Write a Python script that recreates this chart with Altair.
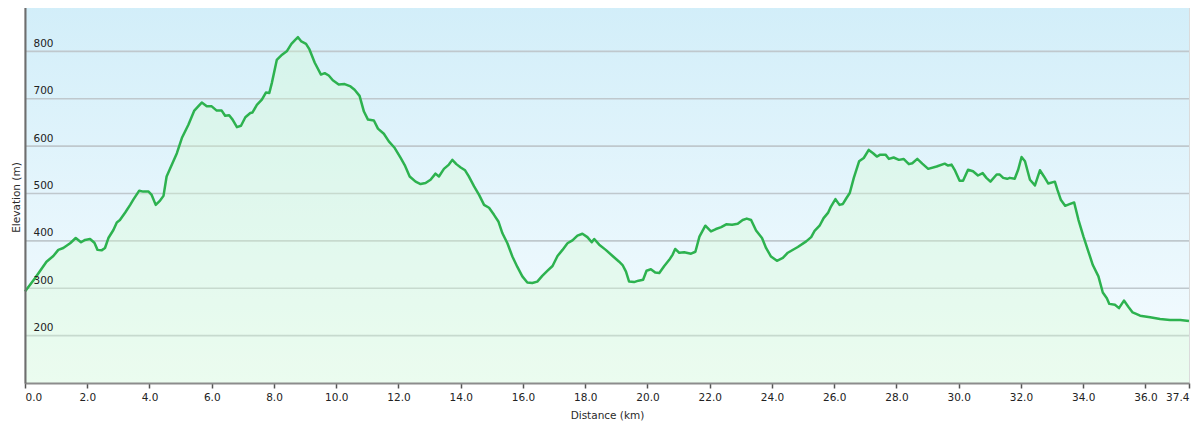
import altair as alt
import pandas as pd

distance_km = [
    0.00, 0.32, 0.69, 0.91, 1.07, 1.23, 1.45, 1.63, 1.80, 1.93, 2.09, 2.23, 2.33, 2.46, 2.57, 2.68,
    2.84, 2.95, 3.05, 3.22, 3.38, 3.48, 3.67, 3.80, 3.97, 4.07, 4.20, 4.34, 4.45, 4.55, 4.72, 4.88,
    5.04, 5.25, 5.44, 5.58, 5.68, 5.84, 6.00, 6.16, 6.32, 6.43, 6.56, 6.67, 6.81, 6.94, 7.08, 7.24,
    7.31, 7.45, 7.61, 7.74, 7.85, 7.93, 8.09, 8.26, 8.42, 8.56, 8.69, 8.77, 8.88, 9.03, 9.14, 9.31,
    9.51, 9.63, 9.76, 9.89, 10.08, 10.27, 10.46, 10.59, 10.75, 10.89, 11.02, 11.21, 11.34, 11.53,
    11.69, 11.88, 12.07, 12.20, 12.36, 12.55, 12.71, 12.87, 13.03, 13.19, 13.30, 13.46, 13.62, 13.73,
    13.86, 14.00, 14.14, 14.26, 14.43, 14.59, 14.75, 14.91, 15.07, 15.21, 15.34, 15.50, 15.66, 15.82,
    15.98, 16.14, 16.30, 16.46, 16.62, 16.79, 16.95, 17.11, 17.27, 17.43, 17.59, 17.75, 17.91, 18.07,
    18.21, 18.29, 18.45, 18.66, 18.88, 19.09, 19.20, 19.31, 19.41, 19.57, 19.71, 19.86, 19.97, 20.11,
    20.25, 20.38, 20.54, 20.70, 20.81, 20.89, 21.02, 21.18, 21.40, 21.54, 21.67, 21.86, 22.04, 22.20,
    22.37, 22.53, 22.72, 22.90, 23.06, 23.19, 23.33, 23.49, 23.68, 23.81, 23.97, 24.16, 24.35, 24.51,
    24.83, 25.10, 25.26, 25.37, 25.53, 25.66, 25.80, 25.90, 26.04, 26.17, 26.28, 26.39, 26.50, 26.63,
    26.80, 26.95, 27.11, 27.25, 27.37, 27.48, 27.65, 27.76, 27.91, 28.08, 28.23, 28.40, 28.51, 28.67,
    28.83, 29.02, 29.29, 29.55, 29.66, 29.77, 29.87, 30.03, 30.14, 30.30, 30.46, 30.62, 30.77, 30.89,
    31.02, 31.22, 31.32, 31.43, 31.56, 31.64, 31.80, 31.91, 32.02, 32.13, 32.29, 32.45, 32.61, 32.74,
    32.88, 33.09, 33.17, 33.28, 33.42, 33.58, 33.71, 33.85, 34.01, 34.17, 34.31, 34.49, 34.63, 34.76,
    34.84, 35.02, 35.15, 35.31, 35.45, 35.59, 35.83, 36.15, 36.47, 36.79, 37.12, 37.40,
]

elevation_m = [
    293, 321, 356, 368, 381, 385, 395, 406, 397, 402, 404, 396, 381, 380, 385, 406,
    423, 439, 444, 460, 476, 487, 506, 504, 504, 497, 476, 485, 495, 536, 561, 585,
    617, 645, 675, 685, 692, 684, 684, 675, 675, 664, 665, 656, 640, 643, 661, 670,
    671, 687, 698, 713, 712, 733, 782, 793, 801, 816, 825, 830, 821, 816, 804, 776,
    751, 754, 749, 739, 730, 731, 726, 719, 706, 673, 656, 654, 637, 626,
    610, 596, 575, 560, 536, 525, 520, 522, 529, 542, 536, 552, 561, 571,
    562, 555, 549, 536, 515, 497, 476, 470, 455, 441, 416, 395, 367, 345,
    325, 312, 311, 314, 326, 337, 347, 368, 381, 395, 401, 411, 415, 408,
    397, 404, 392, 381, 368, 356, 349, 335, 314, 313, 316, 318, 337, 340,
    333, 332, 347, 360, 371, 383, 375, 376, 373, 377, 409, 432, 420, 425,
    429, 435, 434, 436, 444, 447, 444, 422, 406, 385, 367, 358, 364, 375,
    387, 399, 408, 421, 432, 448, 459, 473, 488, 476, 478, 490, 501, 533,
    568, 575, 592, 585, 578, 582, 582, 573, 576, 571, 573, 562, 564, 573,
    563, 552, 557, 563, 559, 561, 550, 527, 527, 550, 547, 538, 543, 533,
    525, 540, 540, 533, 531, 533, 531, 550, 577, 568, 529, 517, 549, 536,
    521, 525, 508, 487, 474, 478, 481, 444, 409, 377, 349, 325, 291, 279,
    267, 265, 258, 274, 261, 249, 242, 239, 235, 233, 233, 231,
]

x_ticks = [0, 2, 4, 6, 8, 10, 12, 14, 16, 18, 20, 22, 24, 26, 28, 30, 32, 34, 36, 37.4]
y_ticks = [200, 300, 400, 500, 600, 700, 800]
x_domain = [0, 37.4]
y_domain = [100, 900]

df = pd.DataFrame({"dist": distance_km, "elev": elevation_m})
grid_df = pd.DataFrame({"elev": y_ticks})

FONT = "DejaVu Sans"

x_scale = alt.Scale(domain=x_domain, nice=False, zero=False)
y_scale = alt.Scale(domain=y_domain, nice=False, zero=False)

x_enc = alt.X(
    "dist:Q",
    scale=x_scale,
    axis=alt.Axis(
        title="Distance  (km)",
        values=x_ticks,
        format=".1f",
        grid=False,
        labelFlush=True,
        tickSize=5,
        tickColor="#555555",
        tickWidth=1.5,
        domainColor="#8c8c8c",
        domainWidth=2,
        labelPadding=4,
        titlePadding=8,
        zindex=1,
    ),
)

y_enc = alt.Y(
    "elev:Q",
    scale=y_scale,
    axis=alt.Axis(
        title="Elevation (m)",
        values=y_ticks,
        grid=False,
        ticks=False,
        tickSize=0,
        labelAlign="left",
        labelBaseline="bottom",
        labelPadding=-8,
        labelOffset=-3,
        domainColor="#6e6e6e",
        domainWidth=2,
        titleX=-9,
        titleY=193,
        titleBaseline="middle",
        zindex=1,
    ),
)

bg_gradient = alt.LinearGradient(
    gradient="linear",
    x1=0, y1=0, x2=0, y2=1,
    stops=[
        alt.GradientStop(offset=0, color="#d2eef9"),
        alt.GradientStop(offset=1, color="#f6fcff"),
    ],
)

background = alt.Chart(df).mark_rect(color=bg_gradient).encode(
    x=alt.datum(x_domain[0], scale=x_scale),
    x2=alt.datum(x_domain[1]),
    y=alt.datum(y_domain[0], scale=y_scale),
    y2=alt.datum(y_domain[1]),
)

grid = alt.Chart(grid_df).mark_rule(color="#bfc8cd", strokeWidth=1.6).encode(
    y=alt.Y("elev:Q", scale=y_scale),
    x=alt.datum(x_domain[0]),
    x2=alt.datum(x_domain[1]),
)

area = alt.Chart(df).mark_area(color="#d6fdd2", opacity=0.35).encode(
    x=x_enc, y=y_enc, y2=alt.datum(100)
)

line = alt.Chart(df).mark_line(color="#2db24f", strokeWidth=2.5, strokeJoin="round").encode(
    x=x_enc, y=y_enc
)

chart = (
    alt.layer(background, grid, area, line)
    .properties(width=1164, height=379, padding={"left": 3, "top": -4, "right": 0, "bottom": 0})
    .configure_view(stroke="#cfcfcf", strokeWidth=1.5)
    .configure_axis(
        labelFont=FONT,
        titleFont=FONT,
        labelFontSize=10.5,
        titleFontSize=10.5,
        labelColor="#222222",
        titleColor="#2a2a2a",
        titleFontWeight="normal",
    )
)

chart.save("out.html", embed_options={"renderer": "svg", "actions": False})
